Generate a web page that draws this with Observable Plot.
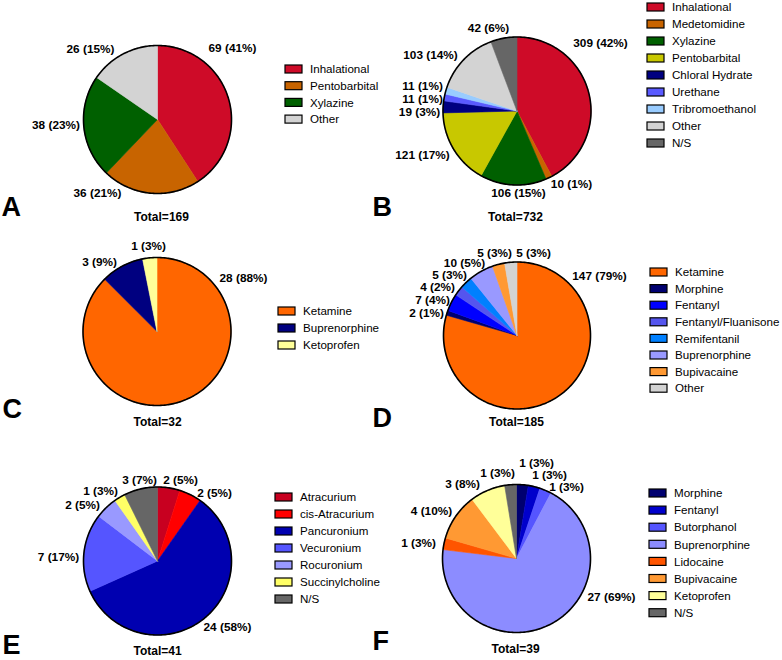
<!DOCTYPE html>
<html>
<head>
<meta charset="utf-8">
<script src="https://cdn.jsdelivr.net/npm/d3@7"></script>
<script src="https://cdn.jsdelivr.net/npm/@observablehq/plot@0.6"></script>
<style>
  html, body { margin: 0; padding: 0; background: #fff; }
  #chart { width: 782px; height: 660px; }
  svg { font-family: "Liberation Sans", Arial, sans-serif; }
</style>
</head>
<body>
<div id="chart"></div>
<script>
// ---------- DATA ----------
const namesA = ["Inhalational", "Pentobarbital", "Xylazine", "Other"];
const valuesA = [69, 36, 38, 26];
const pctA = [41, 21, 23, 15];

const namesB = ["Inhalational", "Medetomidine", "Xylazine", "Pentobarbital", "Chloral Hydrate", "Urethane", "Tribromoethanol", "Other", "N/S"];
const valuesB = [309, 10, 106, 121, 19, 11, 11, 103, 42];
const pctB = [42, 1, 15, 17, 3, 1, 1, 14, 6];

const namesC = ["Ketamine", "Buprenorphine", "Ketoprofen"];
const valuesC = [28, 3, 1];
const pctC = [88, 9, 3];

const namesD = ["Ketamine", "Morphine", "Fentanyl", "Fentanyl/Fluanisone", "Remifentanil", "Buprenorphine", "Bupivacaine", "Other"];
const valuesD = [147, 2, 7, 4, 5, 10, 5, 5];
const pctD = [79, 1, 4, 2, 3, 5, 3, 3];

const namesE = ["Atracurium", "cis-Atracurium", "Pancuronium", "Vecuronium", "Rocuronium", "Succinylcholine", "N/S"];
const valuesE = [2, 2, 24, 7, 2, 1, 3];
const pctE = [5, 5, 58, 17, 5, 3, 7];

const namesF = ["Morphine", "Fentanyl", "Butorphanol", "Buprenorphine", "Lidocaine", "Bupivacaine", "Ketoprofen", "N/S"];
const valuesF = [1, 1, 1, 27, 1, 4, 3, 1];
const pctF = [3, 3, 3, 69, 3, 10, 8, 3];

const panelLetters = ["A", "B", "C", "D", "E", "F"];

// ---------- STYLES ----------
const colorsA = ["#CE0B28", "#C86400", "#006000", "#D3D3D3"];
const colorsB = ["#CE0B28", "#C86400", "#006000", "#C8C800", "#000080", "#5A5AFF", "#99CCFF", "#D3D3D3", "#666666"];
const colorsC = ["#FF6600", "#000080", "#FFFF99"];
const colorsD = ["#FF6600", "#000070", "#0000FF", "#5555EE", "#0080FF", "#9999FF", "#FF9933", "#D3D3D3"];
const colorsE = ["#C80020", "#FF0000", "#0000B0", "#5555FF", "#9999FF", "#FFFF66", "#666666"];
const colorsF = ["#000070", "#0000CC", "#5555FF", "#8C8CFF", "#FF5500", "#FF9933", "#FFFF99", "#666666"];

// ---------- LAYOUT ----------
const layout = [
  {cx: 157, cy: 119, r: 74, legX: 285, legY: 69, legStep: 16.7, totX: 161, totY: 217, letX: 1, letY: 207,
   labels: [[232, 48], [97, 193], [55.5, 125], [90, 49]]},
  {cx: 516.5, cy: 110.5, r: 74, legX: 647, legY: 7, legStep: 17, totX: 515, totY: 217, letX: 372, letY: 207,
   labels: [[600, 43], [571, 184], [518, 193], [422, 155], [419, 112], [422, 98.5], [422, 85.5], [430, 55], [488, 28]]},
  {cx: 156.5, cy: 331, r: 74, legX: 278, legY: 311, legStep: 17, totX: 157, totY: 422, letX: 2, letY: 409,
   labels: [[243, 278], [99, 262], [148, 246]]},
  {cx: 516.5, cy: 335, r: 73.5, legX: 650, legY: 272, legStep: 16.6, totX: 516, totY: 422, letX: 372, letY: 418,
   labels: [[599, 276], [426, 313], [432, 299.5], [437, 286.5], [449, 275], [464, 263], [494, 253], [533, 253]]},
  {cx: 157, cy: 560.5, r: 74, legX: 275, legY: 497, legStep: 17, totX: 157, totY: 651, letX: 2, letY: 645,
   labels: [[180, 480], [214, 493], [227, 627], [58, 557], [82, 505], [100, 491], [139, 480]]},
  {cx: 516, cy: 558, r: 74, legX: 649, legY: 493, legStep: 17.1, totX: 515, totY: 649, letX: 372, letY: 641,
   labels: [[536, 462.5], [549, 474.5], [566, 487], [611, 597], [418, 543], [431, 511], [462, 484], [497, 473]]}
];

const series = [
  {names: namesA, values: valuesA, pct: pctA, colors: colorsA},
  {names: namesB, values: valuesB, pct: pctB, colors: colorsB},
  {names: namesC, values: valuesC, pct: pctC, colors: colorsC},
  {names: namesD, values: valuesD, pct: pctD, colors: colorsD},
  {names: namesE, values: valuesE, pct: pctE, colors: colorsE},
  {names: namesF, values: valuesF, pct: pctF, colors: colorsF}
];

// ---------- BUILD TABLES ----------
const slicePts = [];
const circlePts = [];
const labelRows = [];
const legendRows = [];
const totalRows = [];
const letterRows = [];
const pie = d3.pie().sort(null).value(d => d);

series.forEach((s, p) => {
  const L = layout[p];
  const arcs = pie(s.values);
  arcs.forEach((a, i) => {
    const key = p + "-" + i;
    slicePts.push({key, x: L.cx, y: L.cy, color: s.colors[i]});
    const n = Math.max(2, Math.ceil((a.endAngle - a.startAngle) / (Math.PI / 360)));
    for (let k = 0; k <= n; k++) {
      const t = a.startAngle + (a.endAngle - a.startAngle) * k / n;
      slicePts.push({key, x: L.cx + L.r * Math.sin(t), y: L.cy - L.r * Math.cos(t), color: s.colors[i]});
    }
    slicePts.push({key, x: L.cx, y: L.cy, color: s.colors[i]});
    labelRows.push({x: L.labels[i][0], y: L.labels[i][1], text: `${s.values[i]} (${s.pct[i]}%)`});
    legendRows.push({
      x1: L.legX, x2: L.legX + 17,
      y1: L.legY + i * L.legStep - 4, y2: L.legY + i * L.legStep + 4,
      tx: L.legX + 24.5, ty: L.legY + i * L.legStep,
      name: s.names[i], color: s.colors[i]
    });
  });
  for (let k = 0; k <= 360; k++) {
    const t = k * Math.PI / 180;
    circlePts.push({key: p, x: L.cx + L.r * Math.sin(t), y: L.cy - L.r * Math.cos(t)});
  }
  totalRows.push({x: L.totX, y: L.totY, text: "Total=" + d3.sum(s.values)});
  letterRows.push({x: L.letX, y: L.letY, text: panelLetters[p]});
});

// ---------- PLOT ----------
const chart = Plot.plot({
  width: 782,
  height: 660,
  margin: 0,
  x: {domain: [0, 782], range: [0, 782], axis: null},
  y: {domain: [0, 660], range: [0, 660], axis: null},
  color: {type: "identity"},
  style: {fontFamily: "'Liberation Sans', Arial, sans-serif", background: "#fff"},
  marks: [
    Plot.line(slicePts, {x: "x", y: "y", z: "key", fill: "color", stroke: "color", strokeWidth: 0.6, curve: "linear"}),
    Plot.line(circlePts, {x: "x", y: "y", z: "key", stroke: "black", strokeWidth: 1.6, fill: "none"}),
    Plot.text(labelRows, {x: "x", y: "y", text: "text", fontSize: 11.8, fontWeight: "bold", fill: "black"}),
    Plot.rect(legendRows, {x1: "x1", x2: "x2", y1: "y1", y2: "y2", fill: "color", stroke: "black", strokeWidth: 1.2}),
    Plot.text(legendRows, {x: "tx", y: "ty", text: "name", textAnchor: "start", fontSize: 11.6, fill: "black"}),
    Plot.text(totalRows, {x: "x", y: "y", text: "text", fontSize: 12, fontWeight: "bold", fill: "black"}),
    Plot.text(letterRows, {x: "x", y: "y", text: "text", textAnchor: "start", fontSize: 27, fontWeight: "bold", fill: "black"})
  ]
});
document.getElementById("chart").appendChild(chart);
</script>
</body>
</html>
